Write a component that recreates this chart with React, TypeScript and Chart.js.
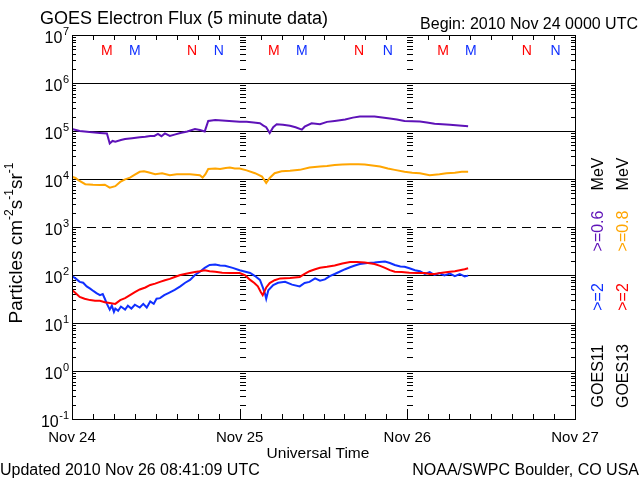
import React, { useEffect, useRef } from "react";
import { Chart, registerables } from "chart.js";

Chart.register(...registerables);

// ---- data (hours since 2010 Nov 24 00:00 UTC, flux in particles cm^-2 s^-1 sr^-1) ----
const g11LowHours = [0, 1.1, 2.5, 4.0, 5.0, 5.4, 5.8, 6.2, 7.0, 7.6, 8.6, 9.7, 10.5, 11.2, 11.8, 12.3, 12.8, 13.3, 14.0, 14.8, 15.5, 16.5, 17.6, 18.3, 19.0, 19.5, 20.0, 20.5, 21.5, 22.5, 24.0, 25.0, 26.0, 26.9, 27.4, 27.8, 28.3, 28.8, 29.3, 30.2, 31.2, 32.0, 32.9, 33.3, 34.3, 35.5, 36.5, 37.6, 39.1, 40.2, 41.2, 42.3, 43.3, 44.4, 45.5, 46.5, 47.6, 48.7, 49.8, 50.8, 51.9, 53.0, 54.1, 55.4, 56.7];
const g11LowFlux = [110000, 100000, 95000, 91000, 89000, 55000, 62000, 60000, 65000, 68000, 71000, 74000, 76000, 79000, 79000, 87000, 78000, 89000, 79000, 85000, 91000, 98000, 110000, 105000, 98000, 162000, 166000, 170000, 166000, 162000, 155000, 155000, 150000, 145000, 130000, 120000, 91000, 120000, 138000, 135000, 129000, 120000, 107000, 123000, 145000, 138000, 155000, 162000, 174000, 190000, 200000, 200000, 200000, 191000, 182000, 174000, 162000, 160000, 158000, 150000, 141000, 138000, 135000, 130000, 126000];

const g13LowHours = [0, 0.5, 0.9, 1.9, 3.0, 4.0, 4.7, 5.4, 6.2, 6.9, 7.6, 8.3, 9.0, 9.7, 10.3, 10.9, 11.9, 12.9, 14.0, 15.0, 16.9, 17.6, 18.3, 18.7, 19.1, 19.5, 20.5, 21.2, 22.0, 22.6, 23.3, 24.0, 25.0, 26.2, 27.2, 27.8, 28.3, 29.0, 30.0, 31.2, 32.6, 34.0, 35.5, 36.5, 37.6, 38.7, 39.8, 41.0, 41.9, 43.0, 44.1, 45.2, 46.2, 47.6, 48.7, 49.8, 51.2, 52.6, 53.6, 54.8, 55.8, 56.7];
const g13LowFlux = [11200, 10500, 9500, 7800, 7600, 7500, 7600, 6600, 7100, 8700, 9800, 10700, 12300, 14100, 14500, 13800, 12600, 13200, 12000, 12600, 12600, 12300, 12000, 10700, 12600, 16200, 16600, 16200, 17000, 17400, 16600, 16600, 15100, 13200, 11200, 8300, 10500, 13200, 14500, 14800, 15500, 17400, 18200, 18600, 19500, 20000, 20400, 20400, 20000, 19100, 18200, 16600, 15500, 14100, 13500, 13200, 12000, 12600, 13200, 13500, 14100, 14100];

const g11HighHours = [0, 0.5, 1.1, 1.6, 2.1, 2.6, 3.1, 3.5, 4.0, 4.4, 4.7, 5.0, 5.4, 5.7, 6.0, 6.2, 6.6, 7.0, 7.6, 8.0, 8.5, 9.0, 9.7, 10.2, 10.7, 11.2, 11.7, 12.1, 12.6, 13.2, 13.8, 14.7, 15.5, 16.2, 16.9, 17.6, 18.3, 19.0, 19.7, 20.5, 21.2, 21.9, 23.0, 24.0, 25.5, 26.2, 26.9, 27.3, 27.6, 27.8, 28.1, 28.8, 29.5, 30.5, 31.5, 32.6, 33.3, 34.0, 34.8, 35.5, 36.2, 36.9, 37.6, 38.3, 39.1, 39.8, 40.5, 41.2, 42.3, 43.3, 44.0, 44.8, 45.5, 46.2, 47.0, 47.6, 48.3, 49.1, 49.8, 50.5, 51.2, 51.9, 52.6, 53.3, 54.1, 54.8, 55.5, 56.2, 56.7];
const g11HighFlux = [95, 85, 72, 69, 58, 52, 46, 42, 38, 40, 32, 25, 19, 23, 17, 20, 18, 22, 19, 23, 20, 24, 21, 25, 21, 28, 25, 32, 33, 38, 42, 49, 58, 69, 79, 100, 117, 141, 162, 166, 158, 155, 141, 126, 110, 95, 79, 56, 42, 32, 48, 62, 69, 72, 63, 58, 68, 72, 85, 76, 81, 95, 105, 117, 132, 145, 158, 170, 178, 182, 186, 191, 178, 162, 151, 148, 138, 126, 120, 105, 115, 100, 110, 98, 107, 95, 105, 93, 97];

const g13HighHours = [0, 0.5, 1.1, 1.8, 2.6, 3.3, 4.0, 4.7, 5.4, 6.2, 6.9, 7.6, 8.3, 9.0, 9.7, 10.5, 11.2, 11.9, 12.6, 13.3, 14.0, 14.7, 15.5, 16.5, 17.6, 18.3, 19.0, 19.7, 20.5, 21.5, 22.6, 24.0, 24.8, 25.5, 26.1, 26.6, 27.0, 27.3, 27.8, 28.3, 29.0, 29.8, 31.2, 32.6, 33.3, 34.0, 34.8, 35.5, 36.5, 37.6, 38.7, 39.8, 40.8, 41.9, 43.3, 44.1, 44.8, 45.5, 46.2, 47.2, 48.3, 49.4, 50.5, 51.2, 51.9, 53.0, 54.1, 54.8, 55.5, 56.2, 56.7];
const g13HighFlux = [49, 42, 35, 32, 30, 29, 29, 27, 26, 25, 30, 33, 38, 44, 50, 55, 62, 66, 72, 78, 83, 91, 100, 107, 115, 120, 126, 120, 117, 112, 110, 110, 98, 79, 68, 58, 45, 38, 55, 68, 78, 85, 87, 91, 105, 120, 132, 141, 148, 158, 174, 186, 186, 182, 170, 155, 141, 126, 117, 115, 112, 110, 110, 105, 105, 112, 117, 120, 126, 132, 138];

// local midnight (M) / noon (N) marker times, hours
const g13MidnightHours = [5.0, 28.9, 53.1];
const g11MidnightHours = [9.0, 32.9, 57.1];
const g13NoonHours = [17.2, 41.1, 65.1];
const g11NoonHours = [21.0, 45.2, 69.2];

const dayLabels = ["Nov 24", "Nov 25", "Nov 26", "Nov 27"];
const dayHours = [0, 24, 48, 72];
const yExponents = [-1, 0, 1, 2, 3, 4, 5, 6, 7];
const gridValues = [1, 10, 100, 1000, 10000, 100000, 1000000];

const PURPLE = "#5e12b8";
const ORANGE = "#ffa500";
const BLUE = "#1030ff";
const RED = "#ff0000";
const FONT = "'Liberation Sans', Arial, sans-serif";

function pts(h: number[], v: number[]) {
  return h.map((x, i) => ({ x, y: v[i] }));
}

const overlay = {
  id: "overlay",
  beforeDatasetsDraw(chart: any) {
    const { ctx, chartArea: a, scales } = chart;
    const xs = scales.x;
    const ys = scales.y;
    const line = (x1: number, y1: number, x2: number, y2: number) => {
      ctx.beginPath();
      ctx.moveTo(x1, y1);
      ctx.lineTo(x2, y2);
      ctx.stroke();
    };
    ctx.save();
    ctx.strokeStyle = "#000";
    ctx.lineWidth = 1;
    // horizontal decade lines
    for (const g of gridValues) {
      const y = Math.round(ys.getPixelForValue(g)) + 0.5;
      ctx.setLineDash(g === 1000 ? [9, 6] : []);
      line(a.left, y, a.right, y);
    }
    ctx.setLineDash([]);
    // log minor ticks on both y axes and at day boundaries
    const dayX = [24, 48].map((h) => Math.round(xs.getPixelForValue(h)));
    for (let k = -1; k < 7; k++) {
      for (let m = 2; m <= 9; m++) {
        const y = Math.round(ys.getPixelForValue(m * Math.pow(10, k))) + 0.5;
        line(a.left, y, a.left + 4, y);
        line(a.right - 4, y, a.right, y);
        for (const x of dayX) line(x, y, x + 6, y);
      }
    }
    // major ticks at decades
    for (const e of yExponents) {
      const y = Math.round(ys.getPixelForValue(Math.pow(10, e))) + 0.5;
      line(a.left, y, a.left + 8, y);
      line(a.right - 8, y, a.right, y);
    }
    // x ticks every 3 hours
    for (let h = 3; h < 72; h += 3) {
      const x = Math.round(xs.getPixelForValue(h)) + 0.5;
      const isDay = h % 24 === 0;
      line(x, a.bottom, x, a.bottom - (isDay ? 10 : 5));
      if (!isDay) line(x, a.top, x, a.top + 5);
    }
    ctx.restore();
  },
  afterDraw(chart: any) {
    const { ctx, chartArea: a, scales } = chart;
    const xs = scales.x;
    const ys = scales.y;
    ctx.save();
    // frame
    ctx.strokeStyle = "#000";
    ctx.lineWidth = 1;
    ctx.strokeRect(Math.round(a.left) + 0.5, Math.round(a.top) + 0.5, Math.round(a.right - a.left), Math.round(a.bottom - a.top));

    ctx.fillStyle = "#000";
    ctx.textBaseline = "alphabetic";
    // title and begin
    ctx.font = `18px ${FONT}`;
    ctx.textAlign = "left";
    ctx.fillText("GOES Electron Flux (5 minute data)", 40, 24);
    ctx.font = `16px ${FONT}`;
    ctx.textAlign = "right";
    ctx.fillText("Begin: 2010 Nov 24 0000 UTC", 638, 29);

    // M / N markers
    ctx.font = `14px ${FONT}`;
    ctx.textAlign = "center";
    const mark = (hours: number[], letter: string, color: string) => {
      ctx.fillStyle = color;
      for (const h of hours) ctx.fillText(letter, xs.getPixelForValue(h), 55);
    };
    mark(g13MidnightHours, "M", RED);
    mark(g11MidnightHours, "M", BLUE);
    mark(g13NoonHours, "N", RED);
    mark(g11NoonHours, "N", BLUE);

    // y tick labels 10^e
    ctx.fillStyle = "#000";
    for (const e of yExponents) {
      const y = ys.getPixelForValue(Math.pow(10, e));
      ctx.font = `11px ${FONT}`;
      ctx.textAlign = "right";
      const sup = String(e);
      const sw = ctx.measureText(sup).width;
      ctx.fillText(sup, 69, y);
      ctx.font = `16px ${FONT}`;
      ctx.fillText("10", 69 - sw - 0.5, y + 8);
    }

    // x labels
    ctx.font = `15px ${FONT}`;
    ctx.textAlign = "center";
    dayLabels.forEach((lab, i) => ctx.fillText(lab, xs.getPixelForValue(dayHours[i]), 442));
    ctx.font = `15.5px ${FONT}`;
    ctx.fillText("Universal Time", 318, 458);
    ctx.font = `16px ${FONT}`;
    ctx.textAlign = "left";
    ctx.fillText("Updated 2010 Nov 26 08:41:09 UTC", 0, 475);
    ctx.textAlign = "right";
    ctx.fillText("NOAA/SWPC Boulder, CO USA", 639, 475);

    // right side rotated legend
    const vtext = (txt: string, xBase: number, yCenter: number, color: string) => {
      ctx.save();
      ctx.translate(xBase, yCenter);
      ctx.rotate(-Math.PI / 2);
      ctx.fillStyle = color;
      ctx.font = `16px ${FONT}`;
      ctx.textAlign = "center";
      ctx.fillText(txt, 0, 0);
      ctx.restore();
    };
    vtext("GOES11", 603, 376, "#000");
    vtext(">=2", 603, 297, BLUE);
    vtext(">=0.6", 603, 231, PURPLE);
    vtext("MeV", 603, 174, "#000");
    vtext("GOES13", 628, 376, "#000");
    vtext(">=2", 628, 297, RED);
    vtext(">=0.8", 628, 231, ORANGE);
    vtext("MeV", 628, 174, "#000");

    // y axis title with superscripts
    const parts: [string, boolean][] = [
      ["Particles cm", false], ["-2", true], ["s", false], ["-1", true], ["sr", false], ["-1", true],
    ];
    const mainF = `19px ${FONT}`;
    const supF = `12px ${FONT}`;
    let total = 0;
    for (const [t, s] of parts) {
      ctx.font = s ? supF : mainF;
      total += ctx.measureText(t).width;
    }
    ctx.save();
    ctx.translate(22, 243);
    ctx.rotate(-Math.PI / 2);
    ctx.textAlign = "left";
    let cx = -total / 2;
    for (const [t, s] of parts) {
      ctx.font = s ? supF : mainF;
      ctx.fillText(t, cx, s ? -9 : 0);
      cx += ctx.measureText(t).width;
    }
    ctx.restore();
    ctx.restore();
  },
};

export default function App() {
  const ref = useRef<HTMLCanvasElement | null>(null);
  useEffect(() => {
    if (!ref.current) return;
    const chart = new Chart(ref.current, {
      type: "line",
      data: {
        datasets: [
          { label: "GOES13 >=2 MeV", data: pts(g13HighHours, g13HighFlux), borderColor: RED, borderWidth: 2, pointRadius: 0, tension: 0 },
          { label: "GOES11 >=2 MeV", data: pts(g11HighHours, g11HighFlux), borderColor: BLUE, borderWidth: 2, pointRadius: 0, tension: 0 },
          { label: "GOES13 >=0.8 MeV", data: pts(g13LowHours, g13LowFlux), borderColor: ORANGE, borderWidth: 2, pointRadius: 0, tension: 0 },
          { label: "GOES11 >=0.6 MeV", data: pts(g11LowHours, g11LowFlux), borderColor: PURPLE, borderWidth: 2, pointRadius: 0, tension: 0 },
        ],
      },
      options: {
        animation: false,
        responsive: false,
        devicePixelRatio: 1,
        layout: { padding: { left: 72, right: 65, top: 35, bottom: 61 } },
        scales: {
          x: { type: "linear", min: 0, max: 72, display: false },
          y: { type: "logarithmic", min: 0.1, max: 1e7, display: false },
        },
        plugins: { legend: { display: false }, tooltip: { enabled: false } },
      },
      plugins: [overlay],
    });
    return () => chart.destroy();
  }, []);
  return (
    <div style={{ position: "absolute", left: 0, top: 0, width: 640, height: 480, background: "#fff" }}>
      <canvas ref={ref} width={640} height={480} />
    </div>
  );
}
